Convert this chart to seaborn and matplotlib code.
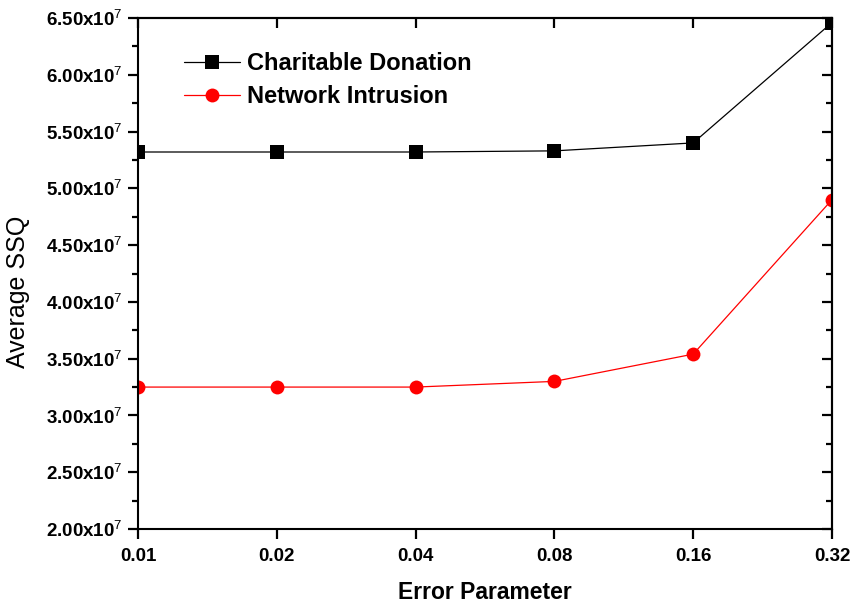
import numpy as np
import pandas as pd
import matplotlib
matplotlib.use("Agg")
import matplotlib.pyplot as plt
import seaborn as sns
from matplotlib.ticker import FixedLocator, MultipleLocator, FuncFormatter, NullFormatter

# Data
error_params = ["0.01", "0.02", "0.04", "0.08", "0.16", "0.32"]
charitable = [5.32e7, 5.32e7, 5.32e7, 5.33e7, 5.40e7, 6.46e7]
network = [3.25e7, 3.25e7, 3.25e7, 3.30e7, 3.54e7, 4.90e7]
series_names = ["Charitable Donation", "Network Intrusion"]

sns.set_theme(style="ticks")
plt.rcParams["font.family"] = ["Liberation Sans", "DejaVu Sans"]
plt.rcParams["mathtext.fontset"] = "custom"
plt.rcParams["mathtext.rm"] = "Liberation Sans"
plt.rcParams["mathtext.it"] = "Liberation Sans"
plt.rcParams["mathtext.bf"] = "Liberation Sans:bold"
plt.rcParams["text.color"] = "black"
plt.rcParams["axes.labelcolor"] = "black"
plt.rcParams["xtick.color"] = "black"
plt.rcParams["ytick.color"] = "black"
plt.rcParams["xtick.major.size"] = 7
plt.rcParams["ytick.major.size"] = 7
plt.rcParams["ytick.minor.size"] = 4
plt.rcParams["xtick.major.width"] = 1.6
plt.rcParams["ytick.major.width"] = 1.6
plt.rcParams["ytick.minor.width"] = 1.6
plt.rcParams["xtick.direction"] = "out"
plt.rcParams["ytick.direction"] = "out"

pos = np.arange(len(error_params))
df = pd.DataFrame({
    "pos": np.concatenate([pos, pos]),
    "ssq": charitable + network,
    "series": [series_names[0]] * len(pos) + [series_names[1]] * len(pos),
})

fig = plt.figure(figsize=(8.58, 6.08), dpi=100)
ax = fig.add_axes([0.1608, 0.1299, 0.8089, 0.8405])

sns.lineplot(data=df, x="pos", y="ssq", hue="series", style="series",
             palette={series_names[0]: "black", series_names[1]: "red"},
             markers={series_names[0]: "s", series_names[1]: "o"},
             dashes=False, linewidth=0.9, markersize=10, markeredgewidth=0,
             ax=ax)

ax.set_xlim(0, len(pos) - 1)
ax.set_ylim(2.0e7, 6.5e7)
ax.xaxis.set_major_locator(FixedLocator(pos))
ax.set_xticklabels(error_params)
ax.yaxis.set_major_locator(MultipleLocator(0.5e7))
ax.yaxis.set_minor_locator(MultipleLocator(0.25e7))


def sci_fmt(v, _):
    return "%.2fx10$^{7}$" % (v / 1e7)


ax.yaxis.set_major_formatter(FuncFormatter(sci_fmt))

for lbl in ax.get_xticklabels() + ax.get_yticklabels():
    lbl.set_fontweight("bold")
    lbl.set_fontsize(13.5)

ax.tick_params(axis="x", which="major", pad=7)
ax.tick_params(axis="y", which="major", pad=4)
ax.tick_params(axis="y", which="minor", left=True)

# right and top ticks point inwards in the reference
ax_r = ax.secondary_yaxis("right")
ax_r.yaxis.set_major_locator(MultipleLocator(0.5e7))
ax_r.yaxis.set_minor_locator(MultipleLocator(0.25e7))
ax_r.yaxis.set_major_formatter(NullFormatter())
ax_r.tick_params(axis="y", which="both", direction="in")
ax_t = ax.secondary_xaxis("top")
ax_t.xaxis.set_major_locator(FixedLocator(pos))
ax_t.xaxis.set_major_formatter(NullFormatter())
ax_t.tick_params(axis="x", which="major", direction="in")
ax_t.xaxis.set_minor_locator(FixedLocator([]))

for a in (ax, ax_r, ax_t):
    for sp in a.spines.values():
        sp.set_linewidth(1.5)
        sp.set_color("black")

ax.set_xlabel("Error Parameter", fontsize=16.5, fontweight="bold", labelpad=11)
ax.set_ylabel("Average SSQ", fontsize=18)
ax.yaxis.set_label_coords(-0.155, 0.465)

leg = ax.legend(loc="upper left", bbox_to_anchor=(0.052, 0.952), frameon=False,
                fontsize=17, handlelength=2.4, borderaxespad=0,
                labelspacing=0.42, handletextpad=0.3)
for t in leg.get_texts():
    t.set_fontweight("bold")

fig.savefig("out.png", dpi=100)
